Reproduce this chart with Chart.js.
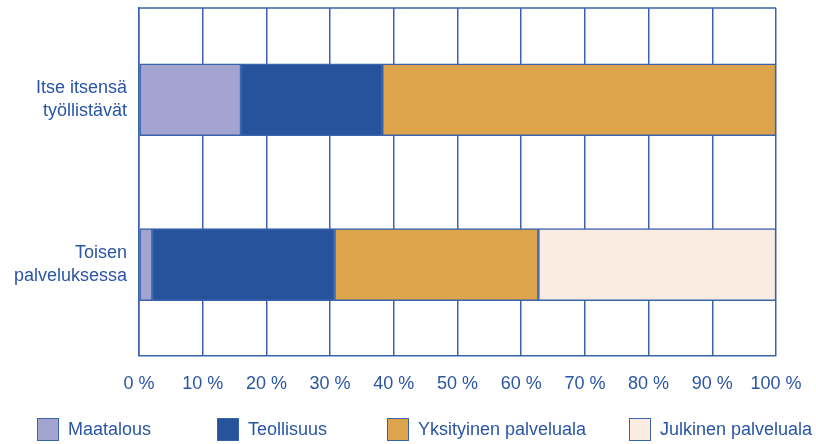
<!DOCTYPE html>
<html>
<head>
<meta charset="utf-8">
<script src="https://cdn.jsdelivr.net/npm/chart.js@4.4.1/dist/chart.umd.min.js"></script>
<style>
  html, body { margin: 0; padding: 0; background: #fff; }
  #wrap { position: relative; width: 816px; height: 444px; }
  #legend { position: absolute; left: 0; top: 418px; width: 816px; height: 24px;
            font-family: "Liberation Sans", Arial, Helvetica, sans-serif; font-size: 18px; color: #2a55a2; }
  .item { position: absolute; top: 0; display: flex; align-items: center; white-space: nowrap; }
  .box { width: 20px; height: 21px; border: 1.5px solid #3a63ab; margin-right: 9px; }
</style>
</head>
<body>
<div id="wrap">
  <canvas id="bar" width="816" height="444"></canvas>
  <div id="legend"></div>
</div>
<script>
const categories = [['Itse itsensä', 'työllistävät'], ['Toisen', 'palveluksessa']];
const seriesNames = ['Maatalous', 'Teollisuus', 'Yksityinen palveluala', 'Julkinen palveluala'];
const maatalous = [16.0, 2.1];
const teollisuus = [22.2, 28.6];
const yksityinen = [61.8, 32.0];
const julkinen = [0, 37.3];
const xTicks = [0, 10, 20, 30, 40, 50, 60, 70, 80, 90, 100];

const colors = ['#a3a4cf', '#27529c', '#dca44c', '#faece0'];
const lineBlue = '#3a63ab';
const textBlue = '#2a55a2';
const font = { family: '"Liberation Sans", Arial, Helvetica, sans-serif', size: 18 };

const values = [maatalous, teollisuus, yksityinen, julkinen];

// top edge of the plot frame
const topFrame = {
	id: 'topFrame',
	afterDraw(chart) {
		const a = chart.chartArea, c = chart.ctx;
		c.save();
		c.strokeStyle = lineBlue;
		c.lineWidth = 1.5;
		c.beginPath();
		c.moveTo(a.left, a.top);
		c.lineTo(a.right, a.top);
		c.stroke();
		c.restore();
	}
};

const ctx = document.getElementById('bar').getContext('2d');
const bar = new Chart(ctx, {
	type: 'bar',
	data: {
		datasets: seriesNames.map((name, k) => ({
			label: name,
			data: values[k].map((v, i) => ({ x: v, y: i })),
			backgroundColor: colors[k],
			borderColor: lineBlue,
			borderWidth: 1.5,
			borderSkipped: false,
			barThickness: 72
		}))
	},
	plugins: [topFrame],
	options: {
		indexAxis: 'y',
		responsive: false,
		animation: false,
		layout: { padding: { left: 10, right: 40, top: 8, bottom: 31 } },
		plugins: {
			legend: { display: false },
			tooltip: { enabled: false }
		},
		scales: {
			x: {
				stacked: true,
				min: 0,
				max: 100,
				afterBuildTicks: s => { s.ticks = xTicks.map(v => ({ value: v })); },
				afterFit: s => { s.paddingLeft = 0; s.paddingRight = 0; },
				ticks: {
					callback: v => v + ' %',
					color: textBlue,
					font: font,
					padding: 18,
					maxRotation: 0
				},
				grid: { color: lineBlue, lineWidth: 1.5, drawTicks: false },
				border: { color: lineBlue, width: 1.5 }
			},
			y: {
				type: 'linear',
				stacked: true,
				reverse: true,
				offset: false,
				min: -0.556,
				max: 1.55,
				afterBuildTicks: s => { s.ticks = categories.map((c, i) => ({ value: i })); },
				afterFit: s => { s.width = 129; s.paddingTop = 0; s.paddingBottom = 0; },
				ticks: {
					callback: v => categories[v],
					color: textBlue,
					font: { family: font.family, size: 18, lineHeight: 1.25 },
					padding: 12
				},
				grid: { display: false, drawTicks: false },
				border: { color: lineBlue, width: 1.5 }
			}
		}
	}
});

const legendLeft = [37, 217, 387, 629];
const legend = document.getElementById('legend');
seriesNames.forEach((name, k) => {
	const item = document.createElement('div');
	item.className = 'item';
	item.style.left = legendLeft[k] + 'px';
	const box = document.createElement('span');
	box.className = 'box';
	box.style.background = colors[k];
	item.appendChild(box);
	item.appendChild(document.createTextNode(name));
	legend.appendChild(item);
});
</script>
</body>
</html>
